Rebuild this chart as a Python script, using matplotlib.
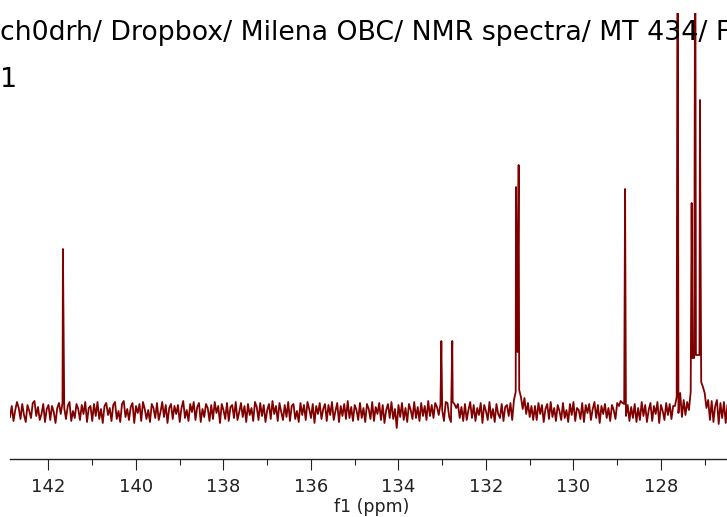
import numpy as np
import matplotlib
matplotlib.use('Agg')
import matplotlib.pyplot as plt
from matplotlib.ticker import MultipleLocator

# baseline noise, one value every 0.04 ppm starting at 142.88 ppm
noise = [
    -5, 6, -9, 2, 10, 4, -7, 8, -3, -10, 7, 1, -6, 9, 11, -4, 5, -8, -2, 8,
    -10, 3, 7, -8, 6, 0, -11, 4, 9, -2, 9, 4, -7, 6, 10, -9, 1, -6, 8, 3,
    -8, 7, -2, 10, -10, 4, 6, -9, 8, -4, 10, -7, 3, -11, 6, 9, -3, 4, -9, 7,
    10, -7, 1, -10, 8, 11, -5, 3, -8, 5, 9, -11, 6, -1, 8, -9, 10, 3, -7, 2,
    -10, 8, 4, -6, 9, -8, 0, 10, -5, 7, -11, 4, 8, -7, 6, -2, 7, -10, 4, 11,
    -6, 2, -9, 8, 0, 10, -8, 5, 9, -10, 3, -5, 8, 4, -9, 7, -7, 10, -1, 6,
    -11, 8, 2, -7, 9, -9, 5, 7, -6, 10, -8, 0, 9, -5, 6, -10, 8, -3, 4, -9,
    10, 5, -8, 9, -4, 7, -10, 2, 8, -7, 11, -2, 6, -9, 9, 0, -8, 7, -5, 10,
    -9, 6, 8, -7, 1, -10, 9, -3, 7, -8, 10, 3, -6, 8, -11, 6, -2, 9, -7, 3,
    8, -9, 7, -3, 10, -8, 1, 9, -10, 6, -4, 8, -7, 11, -6, 5, -9, 7, 2, -8,
    9, -6, 4, -10, 8, 3, -7, 10, -9, 5, -2, 9, -8, 7, -11, 2, 8, -6, 10, -7,
    3, -16, 7, -5, 9, -8, 4, -10, 8, 2, -7, 10, -6, 5, -9, 9, -4, 6, -8, 11,
    -4, 7, -6, 9, 5, -3, 8, 2, -9, 10, 9, -5, -10, 10, 8, 4, 8, -6, 5, -9,
    8, -8, 2, 10, -6, 7, -9, 4, -3, 9, -11, 7, 1, -8, 10, -6, 3, -10, 8, -2,
    -6, 8, -9, 5, 7, -4, 9, -8, 12, 20, 60, 22, 15, 3, 14, -2, 9, -5, 6, -8,
    6, -8, 9, -2, 7, -10, 3, 8, -7, 10, -5, 4, -9, 7, 1, -8, 9, -6, 2, -10,
    8, -3, 10, -9, 4, 2, -7, 9, -10, 7, -1, 8, -8, 3, 10, -6, 7, -11, 6, -2,
    8, -6, 4, -9, 7, 2, -7, 9, 6, 11, 9, 8, -4, 7, -9, 5, -6, 8, -10, 4,
    -8, 10, -4, 7, -10, 2, 9, -9, 6, -2, 10, -11, 7, 1, -8, 9, -3, 8, -7, 6,
    6, 15, -1, 19, -5, 12, -3, 10, 2, 20, 54, 54, 57, 57, 57, 30, 25, 19, 4, 12,
    -8, 11, -10, 6, 12, -12, 9, -6, 10, -11, 7, 4, -9, 8, -5, 9, -7, 6, -8, 5,
]
start_ppm = 142.88
step_ppm = 0.04

# peaks (ppm, intensity)
peak_ppm = [141.67, 133.02, 132.77, 131.314, 131.253, 128.82,
            127.618, 127.298, 127.216, 127.109]
peak_height = [163, 71, 71, 225, 247, 223, 600, 209, 550, 312]

title_line1 = "ch0drh/ Dropbox/ Milena OBC/ NMR spectra/ MT 434/ F"
title_line2 = "1"

# build spectrum
ppm = start_ppm - step_ppm * np.arange(len(noise))
x = np.concatenate([ppm, peak_ppm])
y = np.concatenate([np.array(noise, float), peak_height])
order = np.argsort(-x)
x, y = x[order], y[order]

fig = plt.figure(figsize=(7.27, 5.17), dpi=100)
ax = fig.add_axes([10 / 727, 58 / 517, 724 / 727, 446 / 517])
ax.plot(x, y, color='#800000', lw=1.3)

ax.set_xlim(142.88, 126.33)
ax.set_ylim(-47, 399)
for s in ['left', 'right', 'top']:
    ax.spines[s].set_visible(False)
ax.spines['bottom'].set_linewidth(1.0)
ax.spines['bottom'].set_color('#222222')
ax.set_yticks([])
ax.xaxis.set_major_locator(MultipleLocator(2))
ax.xaxis.set_minor_locator(MultipleLocator(1))
ax.tick_params(axis='x', which='major', length=8, width=0.8, labelsize=13,
               pad=6, colors='#222222')
ax.tick_params(axis='x', which='minor', length=4.3, width=0.8, colors='#222222')
ax.set_xlabel('f1 (ppm)', fontsize=12.5, labelpad=1, color='#222222')

fig.text(0.0, 1 - 33 / 517, title_line1, fontsize=19.3, ha='left', va='center')
fig.text(0.0, 1 - 80 / 517, title_line2, fontsize=19.3, ha='left', va='center')

fig.savefig('out.png', dpi=100)
